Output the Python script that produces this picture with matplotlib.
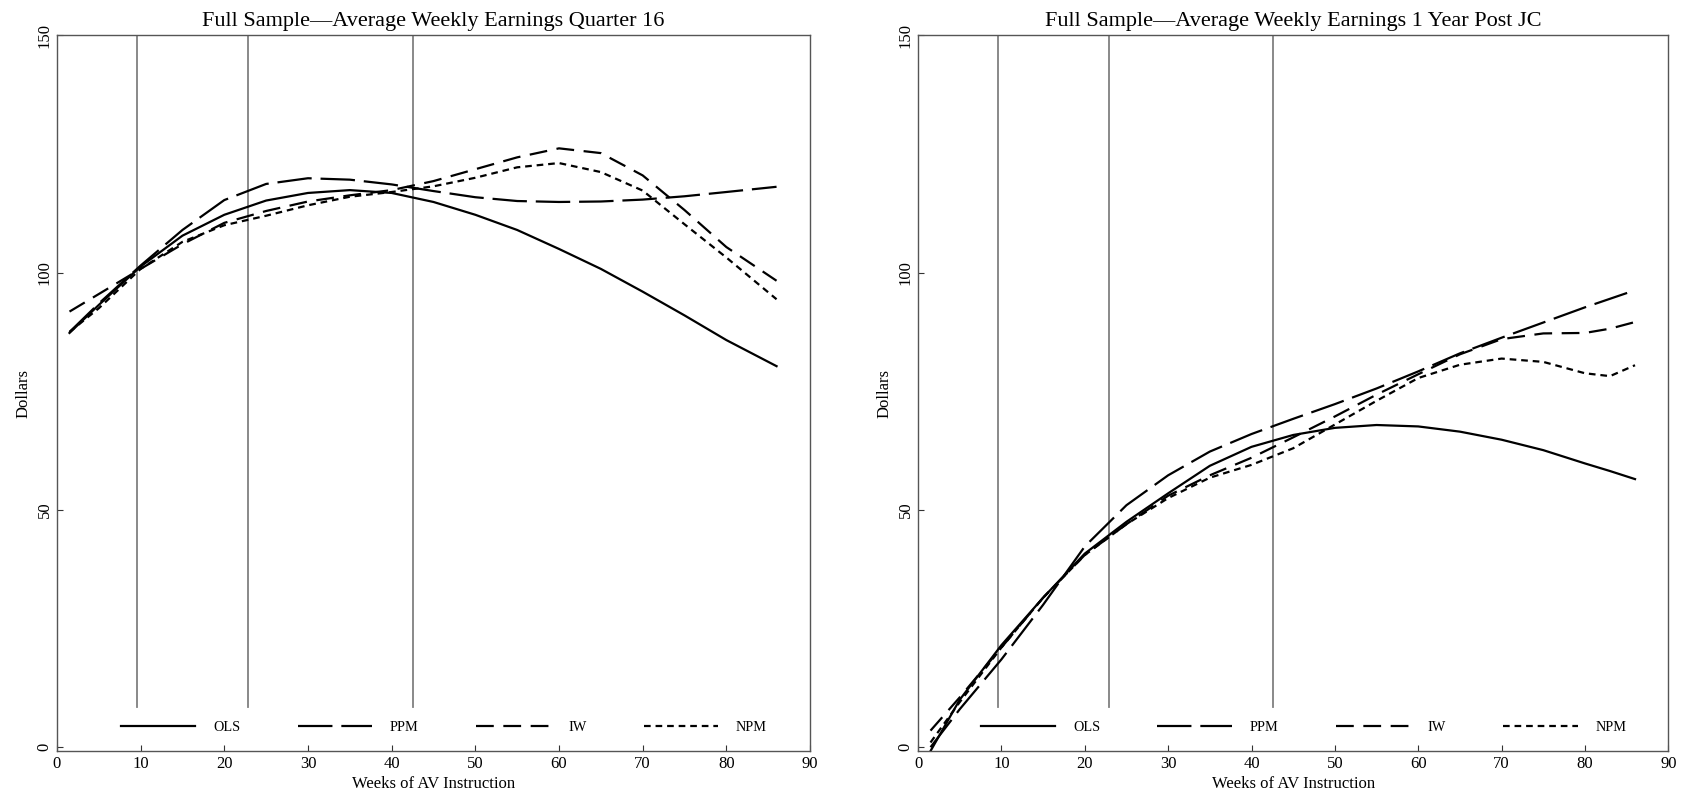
import matplotlib
matplotlib.use("Agg")
import matplotlib.pyplot as plt

plt.rcParams['font.family'] = ['Liberation Serif', 'DejaVu Serif']

# weeks of AV instruction (evaluation points)
weeks_q16 = [1.5, 5, 10, 15, 20, 25, 30, 35, 40, 45, 50, 55, 60, 65, 70, 75, 80, 86]
ols_q16 = [87.3, 93.2, 101.3, 107.8, 112.2, 115.2, 116.8, 117.4, 116.8, 114.9, 112.2, 109.0, 105.0, 100.8, 96.0, 91.0, 85.8, 80.3]
ppm_q16 = [87.5, 93.5, 101.5, 109.0, 115.3, 118.7, 119.9, 119.6, 118.6, 117.2, 115.9, 115.1, 114.9, 115.0, 115.4, 116.1, 117.0, 118.1]
iw_q16 = [91.8, 95.5, 100.8, 106.0, 110.5, 113.0, 115.0, 116.3, 117.4, 119.3, 121.8, 124.3, 126.2, 125.2, 120.5, 113.2, 105.4, 98.3]
npm_q16 = [87.5, 92.5, 100.8, 106.5, 110.0, 112.0, 114.2, 116.0, 117.0, 118.2, 120.0, 122.2, 123.1, 121.2, 117.3, 110.2, 103.2, 94.4]

weeks_1y = [1.5, 5, 10, 15, 20, 25, 30, 35, 40, 45, 50, 55, 60, 65, 70, 75, 80, 83, 86]
ols_1y = [-0.8, 10.0, 21.5, 31.5, 40.8, 47.5, 53.5, 59.3, 63.3, 65.8, 67.3, 67.9, 67.6, 66.5, 64.8, 62.6, 59.8, 58.2, 56.5]
ppm_1y = [0.0, 8.0, 18.5, 30.0, 42.3, 51.0, 57.3, 62.3, 66.0, 69.2, 72.3, 75.6, 79.2, 83.0, 86.3, 89.5, 92.7, 94.5, 96.3]
iw_1y = [3.5, 10.5, 21.0, 31.5, 40.5, 47.0, 53.0, 57.3, 61.0, 65.3, 69.7, 74.3, 78.6, 82.8, 86.0, 87.2, 87.3, 88.2, 89.6]
npm_1y = [1.0, 9.5, 21.0, 31.5, 40.5, 47.0, 52.5, 56.8, 59.5, 63.0, 68.0, 73.0, 77.8, 80.6, 81.9, 81.2, 78.8, 78.2, 80.5]

cutoffs = [9.6, 22.85, 42.55]
titles = ["Full Sample\u2014Average Weekly Earnings Quarter 16",
          "Full Sample\u2014Average Weekly Earnings 1 Year Post JC"]
labels = ["OLS", "PPM", "IW", "NPM"]
styles = ["-", (0, (15.5, 4)), (0, (8, 4.3)), (0, (3, 2.2))]

fig = plt.figure(figsize=(16.9, 8.01), dpi=100)
ax1 = fig.add_axes([0.0337, 0.0618, 0.4456, 0.894])
ax2 = fig.add_axes([0.5432, 0.0618, 0.4440, 0.894])

panels = [(ax1, weeks_q16, [ols_q16, ppm_q16, iw_q16, npm_q16], titles[0]),
          (ax2, weeks_1y, [ols_1y, ppm_1y, iw_1y, npm_1y], titles[1])]

for ax, wk, series, title in panels:
    for c in cutoffs:
        ax.plot([c, c], [8.5, 150], color='#808080', lw=1.3, zorder=1)
    for y, lab, ls in zip(series, labels, styles):
        ax.plot(wk, y, color='black', lw=1.6, linestyle=ls, label=lab, zorder=2)
    ax.set_xlim(0, 90)
    ax.set_ylim(-0.9, 150)
    ax.set_xticks(range(0, 91, 10))
    ax.set_yticks([0, 50, 100, 150])
    ax.tick_params(direction='in', length=4, width=0.8, labelsize=12, colors='#333333',
                   labelcolor='black', pad=3)
    for lbl in ax.get_yticklabels():
        lbl.set_rotation(90)
        lbl.set_va('center')
    for s in ['top', 'right', 'left', 'bottom']:
        ax.spines[s].set_color('#555555')
        ax.spines[s].set_linewidth(1.0)
    ax.set_title(title, fontsize=16, pad=7)
    ax.set_xlabel("Weeks of AV Instruction", fontsize=12, labelpad=3)
    ax.set_ylabel("Dollars", fontsize=12, labelpad=4)
    ax.legend(loc='center', bbox_to_anchor=(0.514, 0.034), ncol=4, frameon=False,
              fontsize=10.3, handlelength=5.2, handletextpad=1.25, columnspacing=4.0)

fig.savefig("out.png", dpi=100)
